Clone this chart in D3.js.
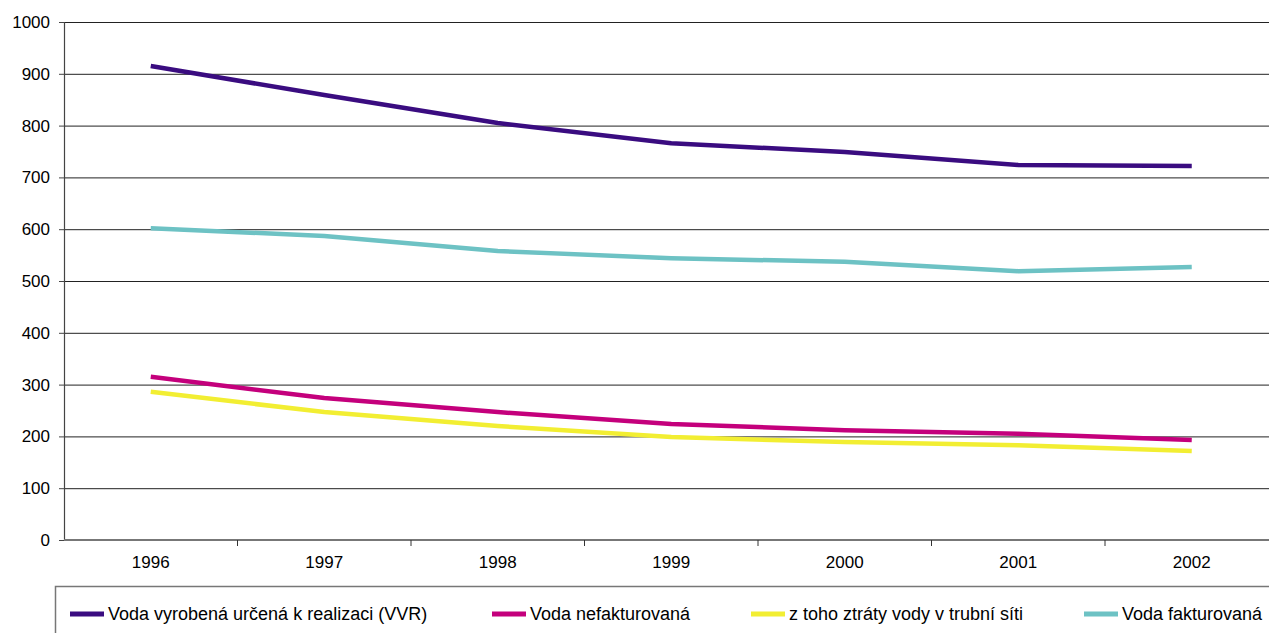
<!DOCTYPE html>
<html><head><meta charset="utf-8">
<script src="https://cdn.jsdelivr.net/npm/d3@7"></script>
<style>body{margin:0;background:#fff;} svg{display:block;font-family:"Liberation Sans",Arial,sans-serif;}</style>
</head><body>
<svg id="c" width="1269" height="633"></svg>
<script>
const years = ["1996","1997","1998","1999","2000","2001","2002"];
const seriesNames = ["Voda vyrobená určená k realizaci (VVR)","Voda nefakturovaná","z toho ztráty vody v trubní síti","Voda fakturovaná"];
const vvr = [915, 859, 805, 766, 749, 724, 722];
const nefakt = [315, 274, 247, 224, 212, 205, 193];
const ztraty = [286, 247, 220, 199, 189, 183, 172];
const fakt = [602, 587, 558, 544, 537, 519, 527];
const yTicks = [0,100,200,300,400,500,600,700,800,900,1000];
const colors = ["#3a0c80","#c4007c","#f2ee32","#6dc2c4"];

const svg = d3.select("#c");
const mLeft = 64, mRight = 1278.5, mTop = 22, mBottom = 540;
const x = d3.scaleBand().domain(years).range([mLeft, mRight]);
const y = d3.scaleLinear().domain([0,1000]).range([mBottom, mTop]);
const FF = "Liberation Sans, Arial, sans-serif";

// gridlines
svg.append("g").selectAll("line").data(yTicks.filter(d=>d>0)).join("line")
  .attr("x1", mLeft).attr("x2", 1269).attr("y1", d=>y(d)+0.5).attr("y2", d=>y(d)+0.5)
  .attr("stroke", "#222").attr("stroke-width", 1);

// y axis
const ya = svg.append("g").attr("transform", `translate(${mLeft},0)`)
  .call(d3.axisLeft(y).tickValues(yTicks).tickFormat(d3.format("d")).tickSize(5).tickPadding(9));
ya.attr("font-size",null).attr("font-family",null);
ya.select(".domain").attr("stroke","#444").attr("stroke-width",1.2);
ya.selectAll(".tick line").attr("stroke","#444");
ya.selectAll("text").style("font-size","17px").attr("fill","#000").style("font-family",FF);

// x axis
const xa = svg.append("g").attr("transform", `translate(0,${mBottom})`)
  .call(d3.axisBottom(x).tickSize(0).tickPadding(16));
xa.attr("font-size",null).attr("font-family",null);
xa.select(".domain").remove();
svg.append("line").attr("x1", mLeft).attr("x2", 1269).attr("y1", mBottom).attr("y2", mBottom)
  .attr("stroke","#777").attr("stroke-width",2);
xa.selectAll("text").style("font-size","17px").attr("fill","#000").style("font-family",FF);
svg.append("g").selectAll("line").data(years.slice(1)).join("line")
  .attr("x1", d=>x(d)).attr("x2", d=>x(d)).attr("y1", mBottom).attr("y2", mBottom+6)
  .attr("stroke","#333").attr("stroke-width",1);

// lines
const data = [vvr, nefakt, ztraty, fakt];
const line = d3.line().x((d,i)=>x(years[i])+x.bandwidth()/2).y(d=>y(d));
const drawOrder = [3,0,2,1];
drawOrder.forEach(k=>{
  svg.append("path").attr("d", line(data[k])).attr("fill","none")
    .attr("stroke", colors[k]).attr("stroke-width",4.5).attr("stroke-linejoin","round");
});

// legend
svg.append("rect").attr("x",55.5).attr("y",586.5).attr("width",1300).attr("height",80)
  .attr("fill","none").attr("stroke","#777").attr("stroke-width",1.5);
const legX = [70, 492, 751, 1084];
const lg = svg.append("g").selectAll("g").data(seriesNames).join("g")
  .attr("transform",(d,i)=>`translate(${legX[i]},614)`);
lg.append("rect").attr("x",0).attr("y",-2.5).attr("width",34).attr("height",5).attr("fill",(d,i)=>colors[i]);
lg.append("text").attr("x",38).attr("y",0).attr("dy","0.35em").style("font-size","18px").style("font-family",FF).attr("fill","#000").text(d=>d);
</script>
</body></html>
